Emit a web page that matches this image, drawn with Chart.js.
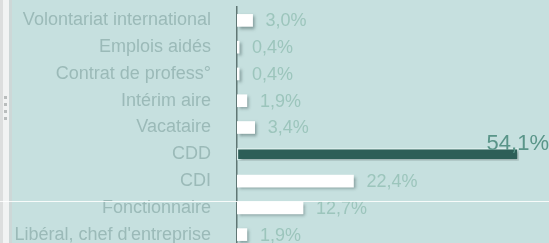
<!DOCTYPE html>
<html>
<head>
<meta charset="utf-8">
<script src="https://cdn.jsdelivr.net/npm/chart.js@4.4.1/dist/chart.umd.min.js"></script>
<style>
  html, body { margin:0; padding:0; width:549px; height:243px; overflow:hidden; background:#c6e0df; }
  #wrap { position:absolute; left:0; top:0; width:549px; height:249px; }
  .strip { position:absolute; top:0; height:243px; }
  .dot { position:absolute; left:4px; width:3px; height:3px; background:#b9bdbd; }
  #hline { position:absolute; left:0; top:201px; width:549px; height:1px; background:rgba(255,255,255,0.85); }
</style>
</head>
<body>
<div id="wrap"><canvas id="myChart" width="549" height="249"></canvas></div>
<div class="strip" style="left:0;width:3px;background:#dcdede"></div>
<div class="strip" style="left:3px;width:6px;background:#f1f3f3"></div>
<div class="strip" style="left:9px;width:3px;background:#cdd7d7"></div>
<div class="dot" style="top:96px"></div>
<div class="dot" style="top:103px"></div>
<div class="dot" style="top:110px"></div>
<div class="dot" style="top:117px"></div>
<div id="hline"></div>
<script>
// categories and values
const categories = ["Volontariat international", "Emplois aidés", "Contrat de profess°", "Intérim aire", "Vacataire", "CDD", "CDI", "Fonctionnaire", "Libéral, chef d'entreprise"]
const values = [3.0, 0.4, 0.4, 1.9, 3.4, 54.1, 22.4, 12.7, 1.9]
const highlight = "CDD"

function fmt(v){ return v.toFixed(1).replace('.', ',') + '%' }

const colors = categories.map(c => c === highlight ? '#2d5e57' : '#ffffff')
const borders = categories.map(c => c === highlight ? 1.5 : 0)

const barPlugin = {
  id: 'barShadowLabels',
  beforeDatasetsDraw(chart){
    const ctx = chart.ctx
    ctx.save()
    ctx.shadowColor = 'rgba(70,95,95,0.55)'
    ctx.shadowOffsetX = 2
    ctx.shadowOffsetY = 2
    ctx.shadowBlur = 3
  },
  afterDatasetsDraw(chart){
    const ctx = chart.ctx
    ctx.restore()
    ctx.save()
    const meta = chart.getDatasetMeta(0)
    meta.data.forEach((bar, i) => {
      const txt = fmt(values[i])
      if (categories[i] === highlight){
        ctx.font = '22px "Liberation Sans Narrow", "Liberation Sans"'
        ctx.fillStyle = '#5a9589'
        ctx.textAlign = 'right'
        ctx.textBaseline = 'alphabetic'
        ctx.fillText(txt, chart.chartArea.right, bar.y - 4)
      } else {
        ctx.font = '18px "Liberation Sans"'
        ctx.fillStyle = '#9cc5bc'
        ctx.textAlign = 'left'
        ctx.textBaseline = 'middle'
        ctx.fillText(txt, bar.x + 13, bar.y + 1)
      }
    })
    ctx.restore()
  }
}

var ctx = document.getElementById('myChart').getContext('2d')
var myChart = new Chart(ctx, {
  type: 'bar',
  data: {
    labels: categories,
    datasets: [{
      data: values,
      backgroundColor: colors,
      borderColor: '#dcefed',
      borderWidth: borders,
      borderSkipped: false,
      barThickness: 12
    }]
  },
  plugins: [barPlugin],
  options: {
    indexAxis: 'y',
    responsive: false,
    animation: false,
    layout: { padding: { top: 7, bottom: 1, left: 0, right: 0 } },
    plugins: { legend: { display: false }, tooltip: { enabled: false } },
    scales: {
      x: { min: 0, max: 60, display: false },
      y: {
        grid: { display: false },
        border: { display: true, color: '#5f7674', width: 1.5 },
        ticks: {
          color: '#9bbab8',
          padding: 18,
          font: { family: '"Liberation Sans"', size: 18 }
        },
        afterFit: s => { s.width = 237; s.paddingTop = 0; s.paddingBottom = 0 }
      }
    }
  }
})
</script>
</body>
</html>
